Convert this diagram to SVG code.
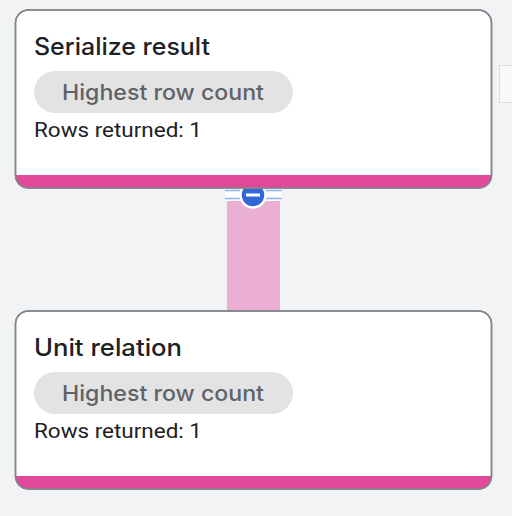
<svg xmlns="http://www.w3.org/2000/svg" width="512" height="516" viewBox="0 0 512 516">
<style>
.card{fill:#ffffff;stroke:#80868b;stroke-width:1.5}
.bar{fill:#e0499a}
.title{font-family:Inter,"Open Sans",sans-serif;font-size:24px;fill:#202124;font-weight:500}
.pill{fill:#e3e3e3}
.pilltext{font-family:Inter,"Open Sans",sans-serif;font-size:22px;fill:#5f6368;font-weight:500}
.rows{font-family:Roboto,"Liberation Sans",sans-serif;font-size:20px;fill:#202124}
.hl{stroke:#8ab4f8;stroke-width:1.5}
</style>
<defs>
<clipPath id="c1"><rect x="15.5" y="10" width="476" height="178" rx="13"/></clipPath>
<clipPath id="c2"><rect x="15.5" y="311" width="476" height="178" rx="13"/></clipPath>
</defs>
<rect width="512" height="516" fill="#f1f3f4"/>
<rect x="499.5" y="65.5" width="14" height="37" fill="#f8f9fa" stroke="#dadce0"/>
<g id="connectors">
<rect x="227" y="188" width="53" height="123" fill="#ebafd3"/>
<rect x="225" y="188" width="57" height="13" fill="#ffffff"/>
<line class="hl" x1="225" y1="190.5" x2="282" y2="190.5"/>
<line class="hl" x1="225" y1="198.5" x2="282" y2="198.5"/>
<circle cx="253" cy="195" r="12.5" fill="#3367d6" stroke="#ffffff" stroke-width="2.5"/>
<rect x="246" y="193.5" width="14" height="3" fill="#ffffff"/>
</g>
<g id="serialize-result">
<rect class="card" x="15.5" y="10" width="476" height="178" rx="13"/>
<rect class="bar" x="15.5" y="175" width="476" height="13" clip-path="url(#c1)"/>
<rect class="card" x="15.5" y="10" width="476" height="178" rx="13" style="fill:none"/>
<text class="title" x="34" y="55" textLength="176" lengthAdjust="spacingAndGlyphs">Serialize result</text>
<rect class="pill" x="34" y="71" width="259" height="42" rx="21"/>
<text class="pilltext" x="62" y="99.5" textLength="202" lengthAdjust="spacingAndGlyphs">Highest row count</text>
<text class="rows" x="34" y="137" textLength="168" lengthAdjust="spacingAndGlyphs">Rows returned: 1</text>
</g>
<g id="unit-relation">
<rect class="card" x="15.5" y="311" width="476" height="178" rx="13"/>
<rect class="bar" x="15.5" y="476" width="476" height="13" clip-path="url(#c2)"/>
<rect class="card" x="15.5" y="311" width="476" height="178" rx="13" style="fill:none"/>
<text class="title" x="34" y="356" textLength="148" lengthAdjust="spacingAndGlyphs">Unit relation</text>
<rect class="pill" x="34" y="372" width="259" height="42" rx="21"/>
<text class="pilltext" x="62" y="400.5" textLength="202" lengthAdjust="spacingAndGlyphs">Highest row count</text>
<text class="rows" x="34" y="438" textLength="168" lengthAdjust="spacingAndGlyphs">Rows returned: 1</text>
</g>
</svg>
